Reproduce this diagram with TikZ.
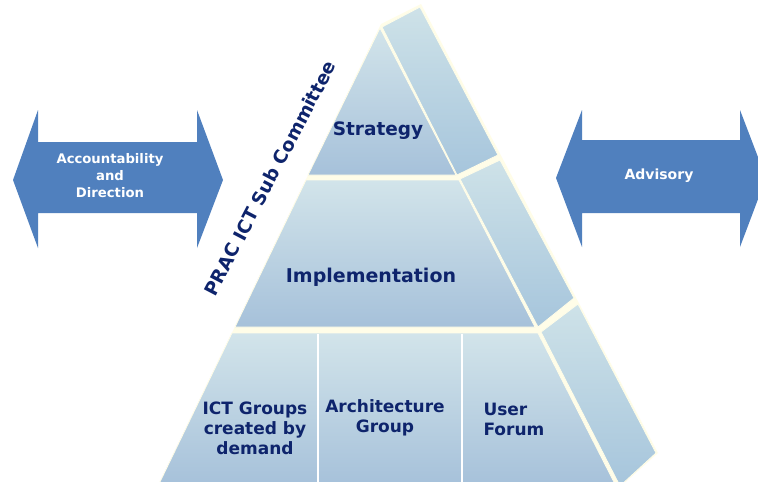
\documentclass[tikz,border=0pt]{standalone}
\usepackage{fontspec}
\setmainfont{DejaVu Sans}
\usepackage{tikz}
\usetikzlibrary{positioning}
\definecolor{arrowblue}{RGB}{80,128,190}
\definecolor{pyrnavy}{RGB}{14,36,108}
\definecolor{pyrtop}{RGB}{210,228,234}
\definecolor{pyrbottom}{RGB}{166,193,218}
\definecolor{flanktop}{RGB}{206,226,232}
\definecolor{flankbottom}{RGB}{166,197,220}
\definecolor{pyrcream}{RGB}{255,253,232}

\begin{document}
\begin{tikzpicture}[
  x=1pt, y=-1pt,
  band/.style={top color=pyrtop, bottom color=pyrbottom, draw=pyrcream, line width=0.8pt},
  flank/.style={top color=flanktop, bottom color=flankbottom, draw=pyrcream, line width=0.8pt},
  dblarrow/.style={fill=arrowblue},
  arrowtext/.style={text=white, font=\bfseries\fontsize{13.2}{17}\selectfont, align=center},
  tier/.style={text=pyrnavy, font=\bfseries\fontsize{18.5}{20}\selectfont, align=center},
  group/.style={text=pyrnavy, font=\bfseries\fontsize{17}{20}\selectfont, align=center},
  divider/.style={draw=white, line width=1.5pt}
]
\fill[white] (0,0) rectangle (758,482);
\useasboundingbox (0,0) rectangle (758,482);

% double arrows on both sides
\fill[dblarrow] (13,180) -- (38,110) -- (38,142) -- (197,142) -- (197,110) -- (223,180)
  -- (197,248) -- (197,213) -- (38,213) -- (38,248) -- cycle;
\fill[dblarrow] (556,178) -- (582,110) -- (582,140) -- (740,140) -- (740,110) -- (766,178)
  -- (740,247) -- (740,213) -- (582,213) -- (582,247) -- cycle;

\node[arrowtext] (acc) at (110,176) {Accountability\\and\\Direction};
\node[arrowtext, font=\bfseries\fontsize{14}{17}\selectfont] (adv) at (659,176) {Advisory};

% pyramid, cream underlay shows in the gaps
\fill[pyrcream] (381,24) -- (421,4) -- (658,453) -- (621,486) -- (158,486) -- cycle;

\shade[band] (380,28) -- (456,175) -- (308,175) -- cycle;
\shade[band] (306,180) -- (459,180) -- (535,327) -- (235,327) -- cycle;
\shade[band] (232,333) -- (538,333) -- (616,486) -- (158,486) -- cycle;

\shade[flank] (382,27) -- (420,7) -- (498,155) -- (457,175) -- cycle;
\shade[flank] (460,179) -- (500,160) -- (574,298) -- (538,327) -- cycle;
\shade[flank] (541,332) -- (578,304) -- (656,453) -- (620,486) -- cycle;

\draw[divider] (318,334) -- (318,486);
\draw[divider] (462,334) -- (462,486);

\node[tier] (strat) at (378,131) {Strategy};
\node[tier, font=\bfseries\fontsize{19}{20}\selectfont] (impl) at (371,277) {Implementation};
\node[group] (ictg) at (255,428) {ICT Groups\\created by\\demand};
\node[group] (arch) at (385,418) {Architecture\\Group};
\node[group, align=left, anchor=west] (user) at (480,419) {User\\Forum};
\node[tier, rotate=62.4] (prac) at (270,178) {PRAC ICT Sub Committee};
\end{tikzpicture}
\end{document}
